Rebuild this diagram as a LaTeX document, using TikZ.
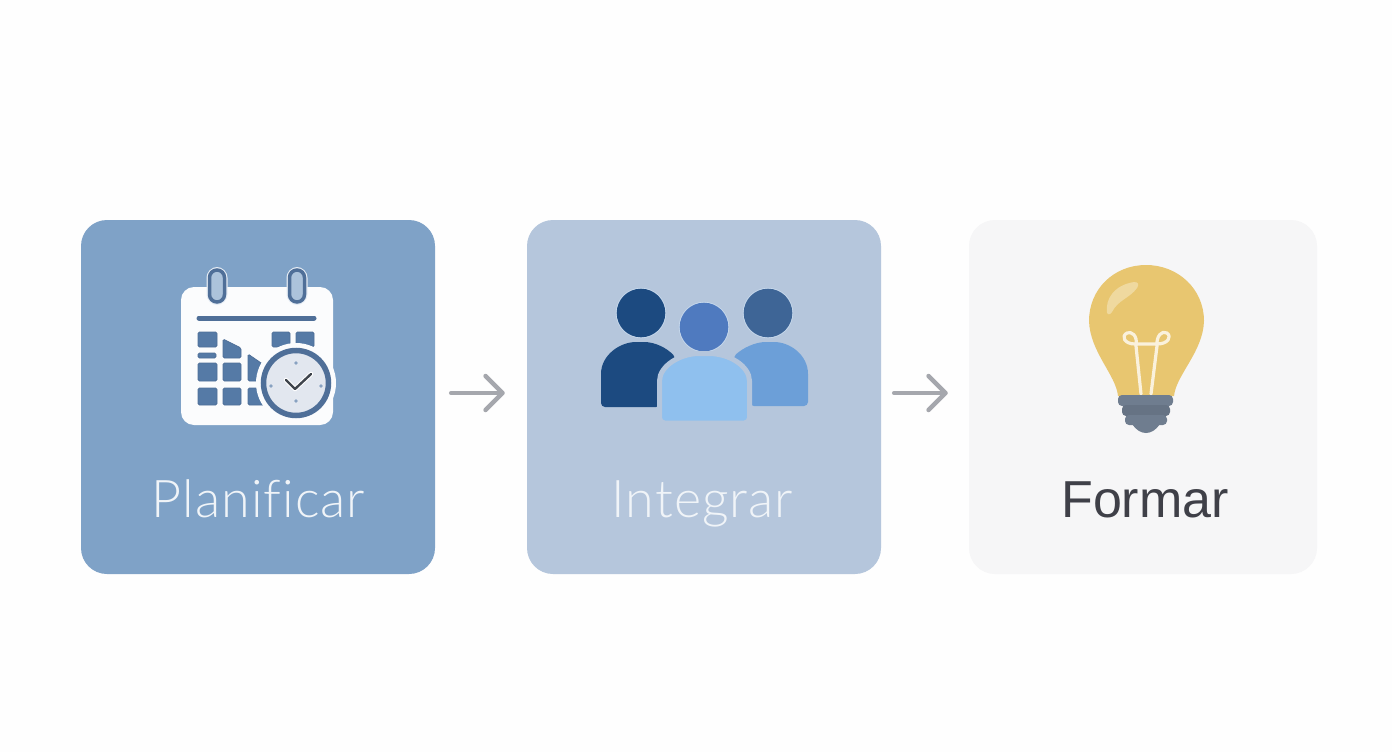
\documentclass[tikz,border=0pt]{standalone}
\usepackage{fontspec}
\setmainfont{Lato}[UprightFont=* Light,LetterSpace=2,Ligatures=NoCommon]
\newfontfamily\regfont{Liberation Sans}
\usetikzlibrary{arrows.meta}
\definecolor{cardA}{HTML}{7FA2C7}
\definecolor{cardB}{HTML}{B5C6DC}
\definecolor{cardC}{HTML}{F6F6F7}
\definecolor{calblue}{HTML}{557AA6}
\definecolor{calline}{HTML}{4F6F98}
\definecolor{clockface}{HTML}{E2E7EF}
\definecolor{arrowgrey}{HTML}{A5A7AD}
\definecolor{bulb}{HTML}{E8C670}
\definecolor{bulbhi}{HTML}{EFD99F}
\definecolor{filament}{HTML}{FAF1DC}
\definecolor{basegrey}{HTML}{6F7D8F}
\definecolor{halo}{HTML}{C6D8EC}
\definecolor{pDark}{HTML}{1C4A80}
\definecolor{pMid}{HTML}{3E6596}
\definecolor{pBlue}{HTML}{4F7ABF}
\definecolor{pLight}{HTML}{6C9FD8}
\definecolor{pPale}{HTML}{8FC0EE}
\definecolor{ink}{HTML}{3F4048}
\tikzset{
  card/.style={rounded corners=26pt,inner sep=0pt,minimum height=354pt},
  flow/.style={draw=arrowgrey,line width=4.5pt,line cap=round,
    -{Straight Barb[length=17pt,width=34pt,line width=4.5pt,round]}},
  cell/.style={fill=calblue,draw=calline,line width=0.8pt,rounded corners=1.5pt},
  lab/.style={font=\fontsize{52}{58}\selectfont,inner sep=0pt,anchor=base},
}
\begin{document}
\begin{tikzpicture}[x=1pt,y=-1pt]
\useasboundingbox[fill=white!99!gray] (0,0) rectangle (1392,752);
% cards
\node[card,fill=cardA,minimum width=354pt] (c1) at (258,397) {};
\node[card,fill=cardB,minimum width=354pt] (c2) at (704,397) {};
\node[card,fill=cardC,minimum width=348pt] (c3) at (1143,397) {};
% arrows
\draw[flow,shorten <=16pt,shorten >=22pt] ([yshift=4pt]c1.east) -- ([yshift=4pt]c2.west);
\draw[flow,shorten <=13pt,shorten >=21pt] ([yshift=4pt]c2.east) -- ([yshift=4pt]c3.west);
% labels
\node[lab,text=white!88!cardA] (t1) at (258.5,517) {Planificar};
\node[lab,text=white!80!cardB] (t2) at (702.5,517) {Integrar};
\node[lab,text=ink,font=\fontsize{52}{58}\selectfont\regfont] (t3) at (1145,517) {Formar};
% calendar
\fill[white!97!cardA,rounded corners=13pt] (181,287) rectangle (333,425);
\foreach \x in {217,297}{
  \draw[white!80!cardA,line width=6pt,rounded corners=8pt] (\x-7.5,270) rectangle (\x+7.5,302);
  \draw[calline,line width=3.5pt,fill=cardA!65!white,rounded corners=7.5pt] (\x-7.5,270) rectangle (\x+7.5,302);
}
\draw[calline,line width=5pt,line cap=round] (199,318) -- (314,318);
\foreach \a/\b/\c/\d in {198/332/217/347, 272/332/290/347, 296/332/314/347,
  198/363/217/381, 223/363/241/381, 198/388/217/405, 223/388/241/405}{
  \filldraw[cell] (\a,\b) rectangle (\c,\d);
}
\filldraw[cell] (198,353) rectangle (216,358);
\filldraw[cell] (223,339) -- (241,348) -- (241,358) -- (223,358) -- cycle;
\filldraw[cell] (248,354) -- (264,365) -- (264,381) -- (248,381) -- cycle;
\filldraw[cell] (248,388) rectangle (266,405);
% clock
\fill[white!97!cardA] (296,383) circle (40);
\draw[calline,line width=5.5pt,fill=clockface] (296,383) circle (32.5);
\foreach \p/\q in {296/364,296/402,271/387,321/387}{ \fill[calblue!70!white] (\p,\q-1) circle (1.8); }
\draw[white,line width=4.5pt,line cap=round,line join=round] (286,380) -- (295,389) -- (311,374);
\draw[black!65!cardB,line width=2.4pt,line cap=round,line join=round] (286,380) -- (295,389) -- (311,374);
% people
\fill[halo] (641,313) circle (25.2);
\fill[pDark] (641,313) circle (24.3);
\fill[halo] (768,313) circle (25.2);
\fill[pMid] (768,313) circle (24.3);
\fill[halo] (704,327) circle (25.2);
\fill[pBlue] (704,327) circle (24.3);
\fill[pDark,rounded corners=4pt] (601,407) -- (601,378) .. controls (601,355) and (620,342) .. (640,342) .. controls (655,342) and (667,348) .. (676,358) -- (660,407) -- cycle;
\fill[pLight,rounded corners=4pt] (808,406) -- (808,378) .. controls (808,355) and (790,342) .. (770,342) .. controls (755,342) and (743,348) .. (733,357) -- (750,406) -- cycle;
\filldraw[fill=pPale,draw=cardB,line width=5pt,rounded corners=5pt] (659.5,423) -- (659.5,386) .. controls (659.5,366) and (680,353.5) .. (704,353.5) .. controls (729,353.5) and (749.5,366) .. (749.5,386) -- (749.5,423) -- cycle;
% bulb
\fill[bulb] (1118,396) .. controls (1116,375) and (1090,352) .. (1089,321)
  .. controls (1089,289) and (1114,265) .. (1146,265)
  .. controls (1178,265) and (1204,289) .. (1204,321)
  .. controls (1203,352) and (1176,375) .. (1174,396) -- cycle;
\fill[bulbhi] (1107,313) .. controls (1105,298) and (1115,285) .. (1134,282)
  .. controls (1139,282) and (1139,285) .. (1137,288)
  .. controls (1130,298) and (1118,300) .. (1112,312) .. controls (1110,315) and (1107,315) .. (1107,313) -- cycle;
\draw[filament,line width=3.2pt,line cap=round,line join=round]
  (1141,394) -- (1136,346) .. controls (1138,335) and (1131,331) .. (1127,333) .. controls (1121,336) and (1124,344) .. (1135,344) -- (1157,344)
  .. controls (1168,344) and (1172,337) .. (1167,333) .. controls (1162,330) and (1156,336) .. (1157,346) -- (1151,394);
\fill[basegrey,rounded corners=4pt] (1118,395) rectangle (1173,406);
\fill[basegrey!92!black,rounded corners=4pt] (1122,405) rectangle (1170,416);
\fill[basegrey,rounded corners=4pt] (1125,415) rectangle (1167,425);
\fill[basegrey] (1132,424) .. controls (1136,430) and (1141,433) .. (1146,433) .. controls (1151,433) and (1156,430) .. (1160,424) -- cycle;
\end{tikzpicture}
\end{document}
